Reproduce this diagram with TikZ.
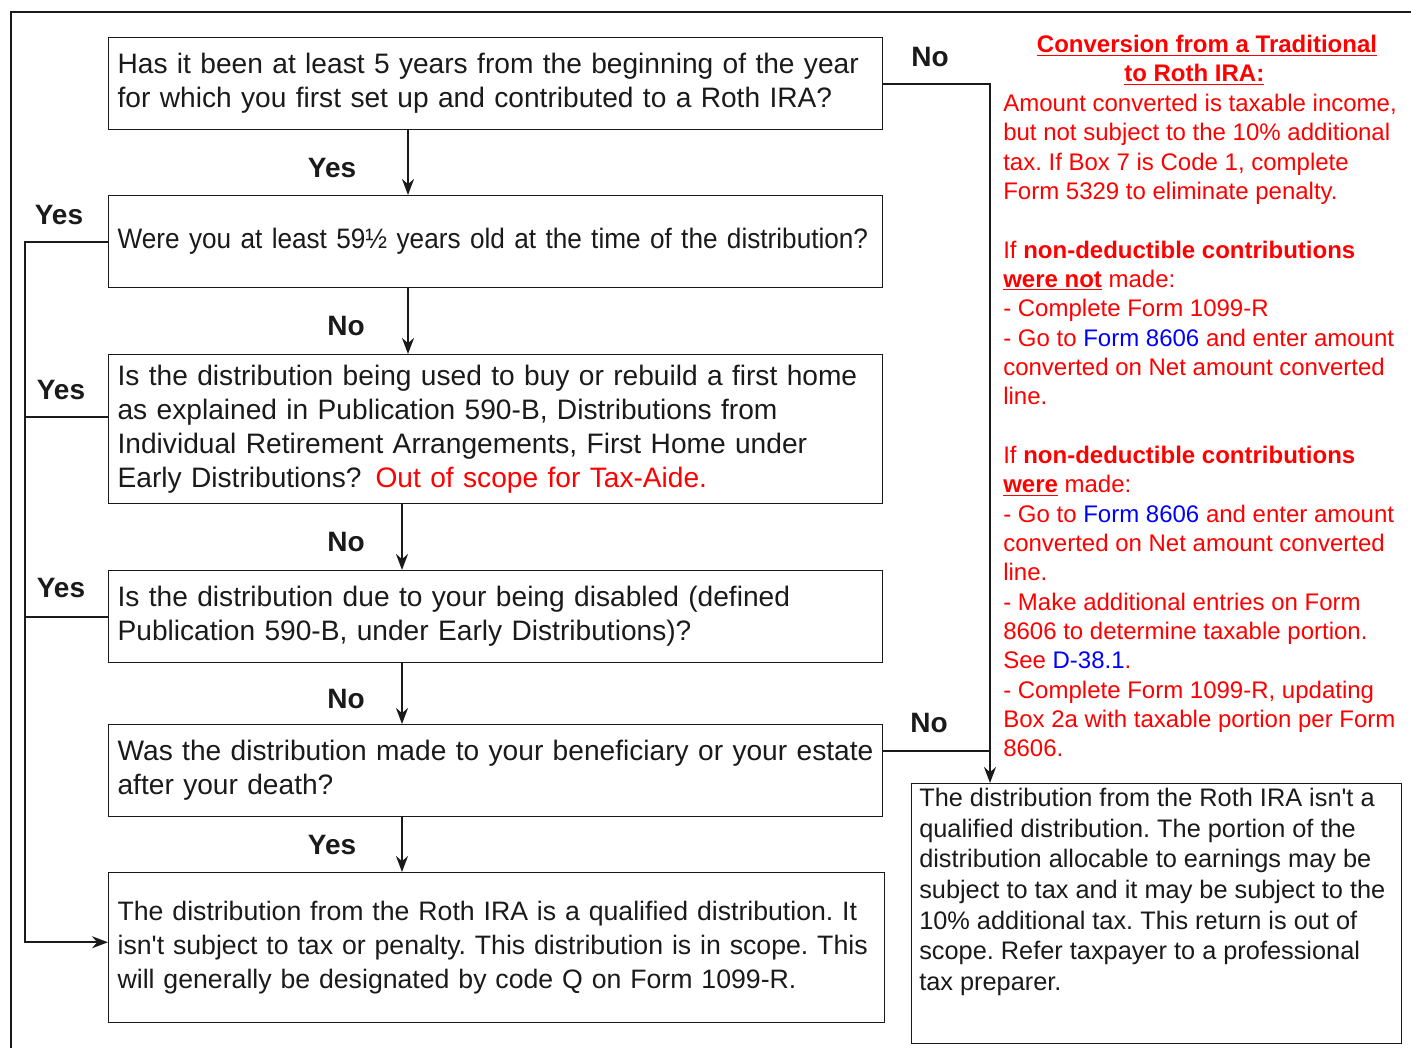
\documentclass[tikz,border=0pt]{standalone}
\usepackage{fontspec}
\setmainfont{Liberation Sans}[Ligatures=TeXOff]
\usetikzlibrary{positioning, arrows.meta}
\definecolor{ink}{HTML}{1A1A1A}
\definecolor{warn}{HTML}{FF0000}
\definecolor{link}{HTML}{0000FF}
\frenchspacing

\begin{document}
\begin{tikzpicture}[x=0.75pt, y=-0.75pt,
  box/.style={draw=ink, line width=0.9pt, anchor=north west, minimum width=580.5pt, minimum height=69pt,
              text width=567pt, inner xsep=6.75pt, align=left, text=ink, font=\fontsize{21.1}{25.5}\selectfont},
  ans/.style={text=ink, font=\fontsize{21}{25}\selectfont\bfseries},
  flow/.style={draw=ink, line width=1.5pt},
  arr/.style={flow, -{Stealth[length=12pt, width=9pt]}},
  note/.style={anchor=north west, inner sep=0pt, align=left, text=warn, font=\fontsize{18}{22}\selectfont}
]
  \useasboundingbox (0,0) rectangle (1411,1048);
  \draw[ink, line width=1.5pt] (11,1048) -- (11,12) -- (1411,12);

  \node[box] (q1) at (108,37) {Has it been at least 5 years from the beginning of the year\\for which you first set up and contributed to a Roth IRA?};
  \node[box, font=\fontsize{21.1}{25.5}\selectfont\addfontfeatures{FakeStretch=0.93}] (q2) at (108,195) {\mbox{Were you at least 59½ years old at the time of the distribution?}};
  \node[box, minimum height=111.75pt] (q3) at (108,354) {Is the distribution being used to buy or rebuild a first home\\as explained in Publication 590-B, Distributions from\\Individual Retirement Arrangements, First Home under\\Early Distributions?\hspace{0.5em}{\color{warn}Out of scope for Tax-Aide.}};
  \node[box] (q4) at (108,570) {Is the distribution due to your being disabled (defined\\Publication 590-B, under Early Distributions)?};
  \node[box] (q5) at (108,724) {Was the distribution made to your beneficiary or your estate\\after your death?};
  \node[box, minimum width=582pt, text width=568.5pt, minimum height=112.5pt, font=\fontsize{20}{25.5}\selectfont] (q6) at (108,872) {The distribution from the Roth IRA is a qualified distribution. It\\isn't subject to tax or penalty. This distribution is in scope. This\\will generally be designated by code Q on Form 1099-R.};

  \node[draw=ink, line width=0.9pt, anchor=north west, minimum width=367.5pt, minimum height=195pt, inner sep=0pt] (notq) at (911,783) {};
  \node[anchor=north west, inner sep=0pt, align=left, text=ink, font=\fontsize{19}{23}\selectfont] (notqtext) at (919,788) {The distribution from the Roth IRA isn't a\\qualified distribution. The portion of the\\distribution allocable to earnings may be\\subject to tax and it may be subject to the\\10\% additional tax. This return is out of\\scope. Refer taxpayer to a professional\\tax preparer.};

  \node[note, anchor=center, align=center, font=\fontsize{18}{21.75}\selectfont\bfseries] (convtitle) at (1207,60) {\underline{Conversion from a Traditional}\\\underline{to Roth IRA:}\hspace*{19pt}};
  \node[note] (convbody) at (1003,94) {Amount converted is taxable income,\\but not subject to the 10\% additional\\tax. If Box 7 is Code 1, complete\\Form 5329 to eliminate penalty.\\[22pt]
    If \textbf{non-deductible contributions}\\\underline{\textbf{were not}} made:\\- Complete Form 1099-R\\- Go to {\color{link}Form 8606} and enter amount\\converted on Net amount converted\\line.\\[22pt]
    If \textbf{non-deductible contributions}\\\underline{\textbf{were}} made:\\- Go to {\color{link}Form 8606} and enter amount\\converted on Net amount converted\\line.\\- Make additional entries on Form\\8606 to determine taxable portion.\\See {\color{link}D-38.1}.\\- Complete Form 1099-R, updating\\Box 2a with taxable portion per Form\\8606.};

  \coordinate (yesrail) at (25,0);
  \coordinate (norail) at (990,0);
  \coordinate (trunka) at (408,0);
  \coordinate (trunkb) at (402,0);

  \draw[arr] (q1.south -| trunka) -- (q2.north -| trunka);
  \draw[arr] (q2.south -| trunka) -- (q3.north -| trunka);
  \draw[arr] (q3.south -| trunkb) -- (q4.north -| trunkb);
  \draw[arr] (q4.south -| trunkb) -- (q5.north -| trunkb);
  \draw[arr] (q5.south -| trunkb) -- (q6.north -| trunkb);

  \draw[arr] (q2.west) -- (q2.west -| yesrail) -- ([yshift=4pt]q6.west -| yesrail) -- ([yshift=4pt]q6.west);
  \draw[flow] ([yshift=9pt]q3.west) -- ([yshift=9pt]q3.west -| yesrail);
  \draw[flow] (q4.west) -- (q4.west -| yesrail);

  \draw[arr] (q1.east) -- (q1.east -| norail) -- (notq.north -| norail);
  \draw[flow] ([yshift=15pt]q5.east) -- ([yshift=15pt]q5.east -| norail);

  \node[ans] (no1) at (930,57) {No};
  \node[ans] (yes1) at (332,168) {Yes};
  \node[ans] (yes2) at (59,215) {Yes};
  \node[ans] (no2) at (346,326) {No};
  \node[ans] (yes3) at (61,390) {Yes};
  \node[ans] (no3) at (346,542) {No};
  \node[ans] (yes4) at (61,588) {Yes};
  \node[ans] (no4) at (346,699) {No};
  \node[ans] (no5) at (929,723) {No};
  \node[ans] (yes5) at (332,845) {Yes};
\end{tikzpicture}
\end{document}
